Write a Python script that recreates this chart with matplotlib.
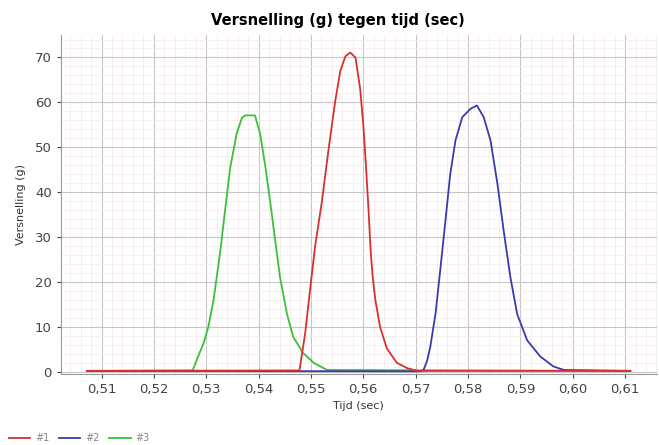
import matplotlib
matplotlib.use('Agg')
import matplotlib.pyplot as plt
from matplotlib.ticker import MultipleLocator, AutoMinorLocator, FuncFormatter

plt.rcParams['font.family'] = ['DejaVu Sans']

# 数据
t1 = [0.5072, 0.5478, 0.5489, 0.5499, 0.5508, 0.5521, 0.5533, 0.5546, 0.5556, 0.5566,
      0.5575, 0.5585, 0.5594, 0.5600, 0.5605, 0.5610, 0.5614, 0.5618, 0.5623, 0.5632,
      0.5645, 0.5664, 0.5684, 0.5703, 0.6110]
g1 = [0.2, 0.3, 8.6, 19, 28, 38, 49, 60, 67, 70.3,
      71.1, 70, 63, 55, 46, 36, 27, 21, 16, 10,
      5.2, 2.0, 0.8, 0.2, 0.2]

t2 = [0.5072, 0.5710, 0.5715, 0.5722, 0.5728, 0.5738, 0.5747, 0.5757, 0.5766, 0.5776,
      0.5789, 0.5805, 0.5817, 0.5830, 0.5843, 0.5856, 0.5868, 0.5881, 0.5894, 0.5913,
      0.5938, 0.5963, 0.5983, 0.6110]
g2 = [0.2, 0.1, 0.4, 2.5, 5.6, 13, 22.7, 33.8, 44, 51.5,
      56.7, 58.6, 59.3, 56.7, 51.5, 42, 31.5, 21, 12.8, 7.0,
      3.4, 1.2, 0.4, 0.2]

t3 = [0.5072, 0.5274, 0.5282, 0.5295, 0.5304, 0.5314, 0.5327, 0.5336, 0.5346, 0.5358,
      0.5368, 0.5374, 0.5393, 0.5403, 0.5413, 0.5422, 0.5432, 0.5441, 0.5454, 0.5466,
      0.5485, 0.5505, 0.5531, 0.6110]
g3 = [0.2, 0.3, 2.7, 6.4, 10, 16, 27, 36, 45.6, 53,
      56.5, 57.1, 57.1, 53, 45.6, 38, 29, 21, 13, 7.8,
      4.2, 2.0, 0.4, 0.2]

series_names = ['#1', '#2', '#3']
series_colors = ['#d83030', '#3a3ab0', '#3cbf3c']

fig = plt.figure(figsize=(6.59, 4.45), dpi=100)
ax = fig.add_axes([0.0921, 0.1605, 0.9049, 0.7608])

ax.plot(t3, g3, color=series_colors[2], lw=1.3, label=series_names[2], zorder=3)
ax.plot(t2, g2, color=series_colors[1], lw=1.3, label=series_names[1], zorder=4)
ax.plot(t1, g1, color=series_colors[0], lw=1.3, label=series_names[0], zorder=5)

ax.set_xlim(0.5022, 0.6161)
ax.set_ylim(-0.4, 75)

ax.yaxis.set_major_locator(MultipleLocator(10))
ax.xaxis.set_minor_locator(AutoMinorLocator(5))
ax.yaxis.set_minor_locator(AutoMinorLocator(5))
ax.set_xticks([0.51 + 0.01 * i for i in range(11)])
ax.xaxis.set_major_formatter(FuncFormatter(lambda v, p: f"{v:.2f}".replace('.', ',')))

ax.grid(which='major', color='#cbc5c8', lw=0.8)
ax.grid(which='minor', color='#f7ebee', lw=0.6)
ax.set_axisbelow(True)

for s in ['top', 'right']:
    ax.spines[s].set_visible(False)
for s in ['left', 'bottom']:
    ax.spines[s].set_color('#9a9a9a')
    ax.spines[s].set_linewidth(0.8)

ax.tick_params(which='major', labelsize=9.5, colors='#444444', length=3, width=0.8)
ax.tick_params(which='minor', length=0)

fig.text(0.512, 0.954, "Versnelling (g) tegen tijd (sec)", fontsize=10.5,
         fontweight='bold', ha='center', va='center')
ax.set_xlabel("Tijd (sec)", fontsize=8, color='#333333', labelpad=4)
ax.set_ylabel("Versnelling (g)", fontsize=8, color='#333333', labelpad=6)

handles, labels = ax.get_legend_handles_labels()
order = [2, 1, 0]
fig.legend([handles[i] for i in order], [labels[i] for i in order],
           loc='lower left', bbox_to_anchor=(0.0, -0.015), ncol=3, frameon=False,
           fontsize=7, handlelength=2.2, columnspacing=1.0, handletextpad=0.5,
           labelcolor='#888888')

fig.savefig('out.png', dpi=100)
